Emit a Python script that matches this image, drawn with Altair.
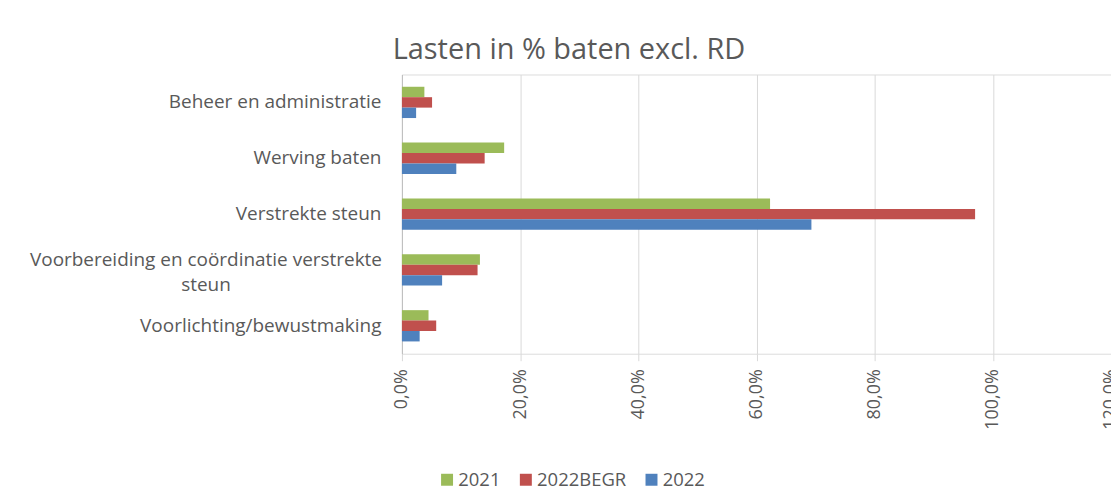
import altair as alt
import pandas as pd

categories = ["Beheer en administratie", "Werving baten", "Verstrekte steun",
              "Voorbereiding en coördinatie verstrekte steun", "Voorlichting/bewustmaking"]
series = ["2021", "2022BEGR", "2022"]
v2021 = [3.8, 17.3, 62.3, 13.2, 4.5]
v2022begr = [5.1, 14.0, 97.0, 12.8, 5.8]
v2022 = [2.4, 9.2, 69.3, 6.8, 3.0]
colors = ["#9BBB59", "#C0504D", "#4F81BD"]

rows = []
for s, vals in zip(series, [v2021, v2022begr, v2022]):
    for c, v in zip(categories, vals):
        rows.append({"cat": c, "serie": s, "val": v})
df = pd.DataFrame(rows)

long_cat = "Voorbereiding en coördinatie verstrekte steun"
label_expr = ("datum.value == '" + long_cat + "' ? "
              "['Voorbereiding en coördinatie verstrekte', 'steun'] : datum.value")
is_long = "datum.value == '" + long_cat + "'"

chart = alt.Chart(df).mark_bar().encode(
    y=alt.Y("cat:N", sort=categories, title=None,
            scale=alt.Scale(paddingInner=0.44, paddingOuter=0.22),
            axis=alt.Axis(labelExpr=label_expr, ticks=False, domain=True,
                          domainColor="#BFBFBF", labelFontSize=19, labelColor="#595959",
                          labelPadding={"condition": {"test": is_long, "value": 197}, "value": 21},
                          labelAlign={"condition": {"test": is_long, "value": "center"}, "value": "right"},
                          labelOffset={"condition": {"test": is_long, "value": -10}, "value": 0},
                          labelFont="Open Sans", labelLimit=450,
                          labelLineHeight=25)),
    yOffset=alt.YOffset("serie:N", sort=series, scale=alt.Scale(paddingInner=0, paddingOuter=0)),
    x=alt.X("val:Q", title=None, scale=alt.Scale(domain=[0, 120], nice=False),
            axis=alt.Axis(values=[0, 20, 40, 60, 80, 100, 120],
                          labelExpr="replace(format(datum.value, '.1f'), '.', ',') + '%'",
                          labelAngle=-90, labelFontSize=18, labelColor="#595959",
                          labelFont="Open Sans", domain=False, tickColor="#D9D9D9",
                          tickSize=7, labelPadding=8, grid=True, gridColor="#D9D9D9")),
    color=alt.Color("serie:N", sort=series,
                    scale=alt.Scale(domain=series, range=colors),
                    legend=alt.Legend(title=None, orient="none", direction="horizontal",
                                      legendX=36, legendY=397, symbolType="square",
                                      symbolSize=144, labelFontSize=18.5,
                                      labelColor="#595959", labelFont="Open Sans",
                                      labelOffset=2, columnPadding=16, symbolStrokeWidth=0)),
).properties(
    width=711, height=280,
    title=alt.TitleParams("Lasten in % baten excl. RD", fontSize=29, color="#595959",
                          font="Open Sans", fontWeight="normal", anchor="middle",
                          dx=-188, offset=10),
    autosize=alt.AutoSizeParams(type="none"),
    padding={"left": 395, "top": 66, "right": 0, "bottom": 140},
).configure_view(stroke=None).configure(background="white")

chart.save("out.html", embed_options={"renderer": "svg", "actions": False})
